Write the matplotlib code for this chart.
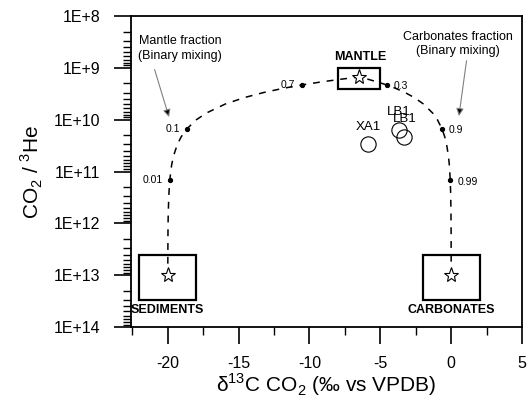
import numpy as np
import matplotlib
matplotlib.use('Agg')
import matplotlib.pyplot as plt
import matplotlib.ticker as ticker
from matplotlib.patches import Rectangle, FancyArrowPatch

plt.rcParams['font.family'] = ['Liberation Sans', 'DejaVu Sans']
plt.rcParams['mathtext.fontset'] = 'custom'
plt.rcParams['mathtext.rm'] = 'Liberation Sans'

# end-members: star position and box extent
end_names = ['SEDIMENTS', 'MANTLE', 'CARBONATES']
end_d13c = [-20.0, -6.5, 0.0]
end_ratio = [1e13, 1.5e9, 1e13]
box_d13c = [(-22.0, -18.0), (-8.0, -5.0), (-2.0, 2.0)]
box_ratio = [(4e12, 3e13), (1e9, 2.6e9), (4e12, 3e13)]

# binary mixing curve sediments -> mantle -> carbonates
mix_d13c = [-19.999, -19.997, -19.993, -19.987, -19.973, -19.93, -19.865, -19.73,
            -19.595, -19.325, -19.055, -18.65, -17.975, -17.3, -15.95, -14.6,
            -13.25, -11.9, -10.55, -9.2, -7.85, -6.5,
            -5.85, -5.2, -4.55, -3.9, -3.25, -2.6, -1.95, -1.3, -0.975, -0.65,
            -0.455, -0.325, -0.195, -0.13, -0.065, -0.0325, -0.013, -0.0065,
            -0.00325, -0.0013, -0.00065]
mix_ratio = [6.0e12, 4.29e12, 2.31e12, 1.30e12, 6.98e11, 2.91e11, 1.48e11, 7.45e10,
             4.98e10, 2.99e10, 2.14e10, 1.50e10, 9.99e9, 7.50e9, 5.0e9, 3.75e9,
             3.0e9, 2.5e9, 2.14e9, 1.875e9, 1.667e9, 1.5e9,
             1.667e9, 1.875e9, 2.14e9, 2.5e9, 3.0e9, 3.75e9, 5.0e9, 7.5e9, 9.99e9, 1.5e10,
             2.14e10, 2.99e10, 4.98e10, 7.45e10, 1.48e11, 2.91e11, 6.98e11, 1.30e12,
             2.31e12, 4.29e12, 6.0e12]

# fraction markers on the mixing curve
frac_labels = ['0.01', '0.1', '0.7', '0.3', '0.9', '0.99']
frac_d13c = [-19.865, -18.65, -10.55, -4.55, -0.65, -0.065]
frac_ratio = [1.48e11, 1.50e10, 2.14e9, 2.14e9, 1.5e10, 1.48e11]

# samples
sample_names = ['XA1', 'LB1', 'LB1']
sample_d13c = [-5.84, -3.67, -3.3]
sample_ratio = [2.95e10, 1.58e10, 2.14e10]

ytick_values = [1e8, 1e9, 1e10, 1e11, 1e12, 1e13, 1e14]
ytick_labels = ['1E+8', '1E+9', '1E+10', '1E+11', '1E+12', '1E+13', '1E+14']
xtick_values = [-20, -15, -10, -5, 0, 5]

fig = plt.figure(figsize=(5.29, 3.97), dpi=100)
ax = fig.add_axes([0.2476, 0.1763, 0.7392, 0.7834])

ax.set_yscale('log')
ax.set_ylim(1e14, 1e8)
ax.set_xlim(-22.6, 5.0)

ax.plot(mix_d13c, mix_ratio, color='black', lw=1.1, ls=(0, (4.5, 4.5)), zorder=2)
ax.plot(frac_d13c, frac_ratio, 'o', color='black', ms=2.8, zorder=3)
for lab, x, y in zip(frac_labels, frac_d13c, frac_ratio):
    if lab in ('0.01', '0.1', '0.7'):
        off, ha = (-5, 0), 'right'
    else:
        off, ha = (5, -1), 'left'
    ax.annotate(lab, (x, y), xytext=off, textcoords='offset points',
                ha=ha, va='center', fontsize=7.5)

# end-member boxes and stars
for name, x, y, bx, by in zip(end_names, end_d13c, end_ratio, box_d13c, box_ratio):
    ax.add_patch(Rectangle((bx[0], by[0]), bx[1] - bx[0], by[1] - by[0],
                           fill=False, ec='black', lw=1.6, zorder=4))
    ax.plot(x, y, marker='*', ms=11, mfc='white', mec='black', mew=0.8, zorder=5)
    if name == 'MANTLE':
        ax.annotate(name, (x, by[0]), xytext=(1, 8), textcoords='offset points',
                    ha='center', va='center', fontsize=9, fontweight='bold')
    else:
        ax.annotate(name, (x, by[1]), xytext=(0, -7), textcoords='offset points',
                    ha='center', va='center', fontsize=9, fontweight='bold')

ax.plot(sample_d13c, sample_ratio, 'o', ms=11, mfc='none', mec='black', mew=0.8, zorder=3)
for name, x, y in zip(sample_names, sample_d13c, sample_ratio):
    dy = 12 if name == 'XA1' else 13
    ax.annotate(name, (x, y), xytext=(0, dy), textcoords='offset points',
                ha='center', va='center', fontsize=9.5)

# mixing annotations
ax.text(-19.12, 4.24e8, 'Mantle fraction\n(Binary mixing)', ha='center', va='center',
        fontsize=9, linespacing=1.25)
ax.add_patch(FancyArrowPatch((-20.99, 9.6e8), (-19.86, 1.0e10), arrowstyle='-|>',
                             mutation_scale=11, ec='gray', fc='black', lw=0.8))
ax.text(0.495, 3.5e8, 'Carbonates fraction\n(Binary mixing)', ha='center', va='center',
        fontsize=9, linespacing=1.25)
ax.add_patch(FancyArrowPatch((1.11, 6.45e8), (0.52, 9.6e9), arrowstyle='-|>',
                             mutation_scale=11, ec='gray', fc='black', lw=0.8))

# axes, ticks
ax.set_yticks(ytick_values)
ax.set_yticklabels(ytick_labels)
ax.yaxis.set_minor_locator(ticker.LogLocator(base=10, subs=np.arange(2, 10)))
ax.yaxis.set_minor_formatter(ticker.NullFormatter())
ax.set_xticks(xtick_values)
ax.set_xticklabels([str(v) for v in xtick_values])
ax.xaxis.set_minor_locator(ticker.MultipleLocator(2.5))
ax.tick_params(which='major', direction='out', length=12, width=1.2, labelsize=11.5)
ax.tick_params(axis='y', which='major', pad=10)
ax.tick_params(axis='x', which='major', pad=9)
ax.tick_params(which='minor', direction='out', length=6, width=1.0)
ax.tick_params(axis='y', which='both', right=False)
ax.tick_params(axis='x', which='both', top=False)
for s in ax.spines.values():
    s.set_linewidth(1.3)

ax.set_ylabel('CO$_2$ / $^3$He', fontsize=15, labelpad=6)
ax.set_xlabel('δ$^{13}$C CO$_2$ (‰ vs VPDB)', fontsize=15, labelpad=0)

fig.savefig('out.png', dpi=100)
